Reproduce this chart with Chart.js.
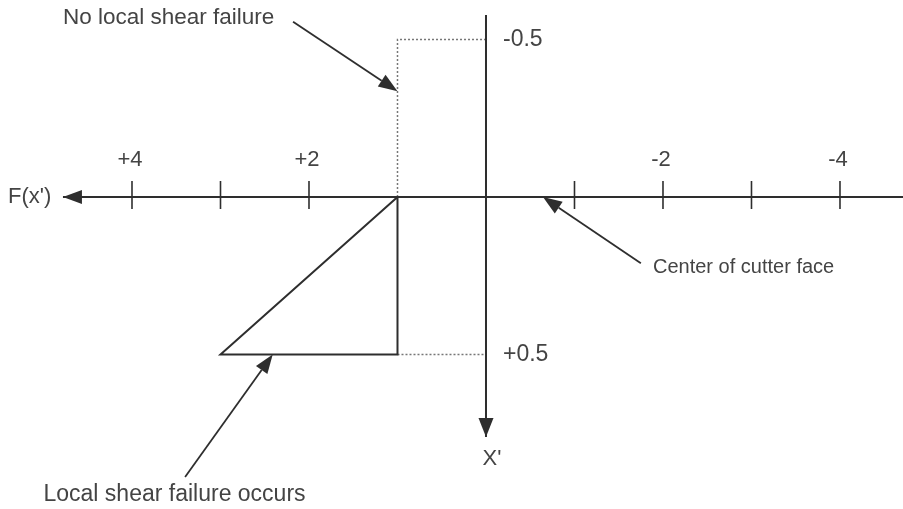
<!DOCTYPE html>
<html>
<head>
<meta charset="utf-8">
<script src="https://cdn.jsdelivr.net/npm/chart.js@4.4.0/dist/chart.umd.min.js"></script>
<style>
  html, body { margin: 0; padding: 0; background: #fff; }
  canvas { display: block; }
</style>
</head>
<body>
<canvas id="canvas" width="903" height="509"></canvas>
<script>
// diagram values (x' runs positive to the left, F(x') positive downward)
const xTicks = [4, 3, 2, -1, -2, -3, -4];
const xTickLabels = ['+4', '', '+2', '', '-2', '', '-4'];

const triangleX = [1, 3, 1, 1];          // local shear failure zone
const triangleY = [0, 0.5, 0.5, 0];

const upperDashX = [1, 1, 0];            // no local shear failure
const upperDashY = [0, -0.5, -0.5];
const lowerDashX = [1, 0];
const lowerDashY = [0.5, 0.5];

const levelValues = [-0.5, 0.5];
const levelLabels = ['-0.5', '+0.5'];

const axisXExtent = [4.78, -4.75];       // horizontal axis, arrow at left end
const axisYExtent = [-0.578, 0.762];     // vertical axis, arrow at bottom end

// callouts: text anchor and arrow (tail -> tip), all in data units
const callouts = [
  { text: 'No local shear failure', tx: 4.78, ty: -0.568, size: 22.5, from: [2.18, -0.556], to: [1, -0.336] },
  { text: 'Center of cutter face', tx: -1.887, ty: 0.225, size: 20, from: [-1.75, 0.21], to: [-0.644, 0] },
  { text: 'Local shear failure occurs', tx: 5.0, ty: 0.946, size: 23, from: [3.4, 0.889], to: [2.41, 0.5] }
];

const INK = '#2e2e2e';
const TEXT = '#444';
const FONT = '"Liberation Sans", Arial, sans-serif';

function pts(xs, ys) {
  return xs.map((x, i) => ({ x: x, y: ys[i] }));
}

function arrow(ctx, x1, y1, x2, y2, len, w) {
  const a = Math.atan2(y2 - y1, x2 - x1);
  const bx = x2 - len * Math.cos(a), by = y2 - len * Math.sin(a);
  ctx.beginPath();
  ctx.moveTo(x1, y1);
  ctx.lineTo(bx, by);
  ctx.stroke();
  ctx.beginPath();
  ctx.moveTo(x2, y2);
  ctx.lineTo(bx + w / 2 * Math.sin(a), by - w / 2 * Math.cos(a));
  ctx.lineTo(bx - w / 2 * Math.sin(a), by + w / 2 * Math.cos(a));
  ctx.closePath();
  ctx.fill();
}

const diagramPlugin = {
  id: 'diagram',
  beforeDraw(chart) {
    const ctx = chart.ctx;
    ctx.save();
    ctx.fillStyle = '#fff';
    ctx.fillRect(0, 0, chart.width, chart.height);
    ctx.restore();
  },
  afterDatasetsDraw(chart) {
    const ctx = chart.ctx;
    const xs = chart.scales.x, ys = chart.scales.y;
    const X = v => xs.getPixelForValue(v), Y = v => ys.getPixelForValue(v);
    ctx.save();
    ctx.strokeStyle = INK;
    ctx.fillStyle = INK;
    ctx.lineWidth = 2;

    // axis arrowheads
    arrow(ctx, X(axisXExtent[0]) + 24, Y(0), X(axisXExtent[0]), Y(0), 19, 14);
    arrow(ctx, X(0), Y(axisYExtent[1]) - 24, X(0), Y(axisYExtent[1]), 19, 15);

    // tick marks and labels
    ctx.lineWidth = 1.6;
    ctx.font = '22px ' + FONT;
    ctx.textAlign = 'center';
    ctx.textBaseline = 'middle';
    xTicks.forEach((t, i) => {
      const px = X(t);
      ctx.beginPath();
      ctx.moveTo(px, Y(0) - 16);
      ctx.lineTo(px, Y(0) + 12);
      ctx.stroke();
      if (xTickLabels[i]) {
        ctx.fillStyle = TEXT;
        ctx.fillText(xTickLabels[i], px - 2, Y(0) - 37);
      }
    });

    // level labels beside the vertical axis
    ctx.font = '23px ' + FONT;
    ctx.textAlign = 'left';
    ctx.fillStyle = TEXT;
    levelValues.forEach((v, i) => ctx.fillText(levelLabels[i], X(0) + 17, Y(v)));

    // axis names
    ctx.font = '22px ' + FONT;
    ctx.fillText("F(x')", 8, Y(0));
    ctx.textAlign = 'center';
    ctx.fillText("X'", X(0) + 6, Y(axisYExtent[1]) + 22);

    // callouts
    ctx.fillStyle = INK;
    ctx.lineWidth = 1.8;
    callouts.forEach(c => {
      arrow(ctx, X(c.from[0]), Y(c.from[1]), X(c.to[0]), Y(c.to[1]), 19, 14);
    });
    ctx.textAlign = 'left';
    ctx.fillStyle = TEXT;
    callouts.forEach(c => {
      ctx.font = c.size + 'px ' + FONT;
      ctx.fillText(c.text, X(c.tx), Y(c.ty));
    });
    ctx.restore();
  }
};

const solid = { showLine: true, pointRadius: 0, borderColor: INK, borderWidth: 2, fill: false, tension: 0 };
const dotted = { showLine: true, pointRadius: 0, borderColor: '#777', borderWidth: 1.5, borderDash: [2, 2], fill: false, tension: 0 };

new Chart(document.getElementById('canvas'), {
  type: 'scatter',
  data: {
    datasets: [
      Object.assign({ label: 'x axis', data: pts(axisXExtent, [0, 0]) }, solid),
      Object.assign({ label: 'y axis', data: pts([0, 0], axisYExtent) }, solid),
      Object.assign({ label: 'failure zone', data: pts(triangleX, triangleY) }, solid),
      Object.assign({ label: 'upper', data: pts(upperDashX, upperDashY) }, dotted),
      Object.assign({ label: 'lower', data: pts(lowerDashX, lowerDashY) }, dotted)
    ]
  },
  options: {
    responsive: false,
    animation: false,
    clip: false,
    layout: { padding: 0 },
    plugins: { legend: { display: false }, tooltip: { enabled: false } },
    scales: {
      x: { type: 'linear', reverse: true, min: -4.712, max: 5.4915, display: false },
      y: { type: 'linear', reverse: true, min: -0.6254, max: 0.9905, display: false }
    }
  },
  plugins: [diagramPlugin]
});
</script>
</body>
</html>
